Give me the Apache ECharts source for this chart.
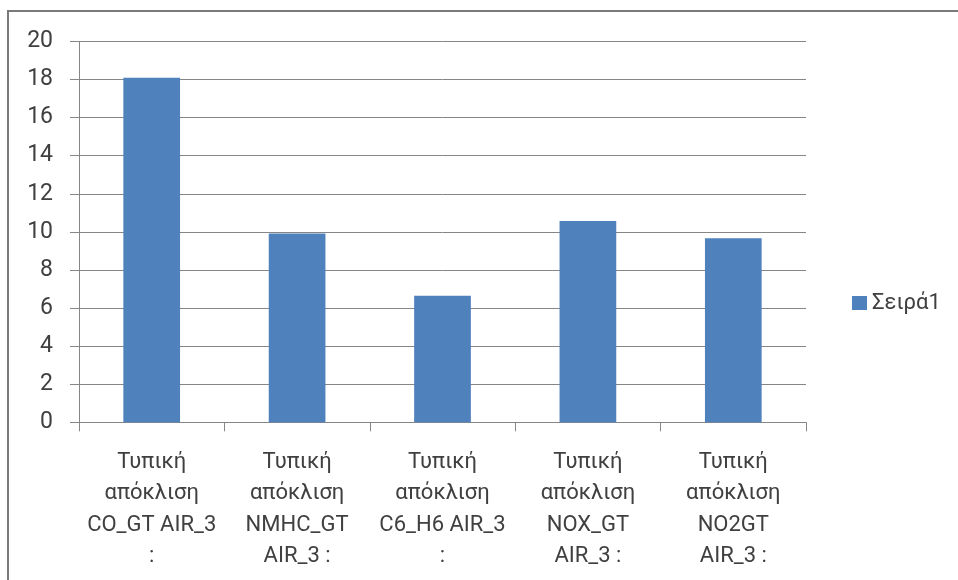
<!DOCTYPE html>
<html>
<head>
<meta charset="utf-8">
<script src="https://cdn.jsdelivr.net/npm/echarts@6/dist/echarts.min.js"></script>
<style>
html,body{margin:0;padding:0;background:#fff;}
#chart{width:958px;height:580px;}
</style>
</head>
<body>
<div id="chart"></div>
<script>
const categories = [
  "Τυπική\nαπόκλιση\nCO_GT AIR_3\n:",
  "Τυπική\nαπόκλιση\nNMHC_GT\nAIR_3 :",
  "Τυπική\nαπόκλιση\nC6_H6 AIR_3\n:",
  "Τυπική\nαπόκλιση\nNOX_GT\nAIR_3 :",
  "Τυπική\nαπόκλιση\nNO2GT\nAIR_3 :"
];
const seriesName = "Σειρά1";
const values = [18.1, 9.92, 6.65, 10.57, 9.67];
const yTicks = { min: 0, max: 20, interval: 2 };

const FONT = "Roboto, 'Liberation Sans', sans-serif";
const TEXT = "#404040";
const LINE = "#868686";

const chart = echarts.init(document.getElementById('chart'), null, {renderer: 'canvas'});
chart.setOption({
  animation: false,
  backgroundColor: '#ffffff',
  graphic: [{
    type: 'rect',
    shape: {x: 8, y: 11, width: 2000, height: 2000},
    style: {fill: 'none', stroke: '#7a7a7a', lineWidth: 2},
    silent: true
  }],
  grid: {left: 79, right: 152, top: 41.5, bottom: 157.7, containLabel: false},
  legend: {
    data: [seriesName],
    left: 847,
    top: 287,
    icon: 'rect',
    itemWidth: 15,
    itemHeight: 14,
    textStyle: {fontFamily: FONT, fontSize: 22, color: TEXT}
  },
  xAxis: {
    type: 'category',
    data: categories,
    axisLine: {show: true, lineStyle: {color: LINE, width: 1}},
    axisTick: {show: true, length: 9, alignWithLabel: false, lineStyle: {color: LINE}},
    axisLabel: {
      interval: 0,
      margin: 24,
      fontFamily: FONT,
      fontSize: 22,
      lineHeight: 31.5,
      color: TEXT
    },
    splitLine: {show: false}
  },
  yAxis: {
    type: 'value',
    min: yTicks.min,
    max: yTicks.max,
    interval: yTicks.interval,
    axisLine: {show: true, lineStyle: {color: LINE, width: 1}},
    axisTick: {show: true, length: 9, lineStyle: {color: LINE}},
    axisLabel: {margin: 26, fontFamily: FONT, fontSize: 23, color: TEXT},
    splitLine: {show: true, lineStyle: {color: LINE, width: 1}}
  },
  series: [{
    name: seriesName,
    type: 'bar',
    data: values,
    barWidth: '39%',
    itemStyle: {color: '#4f81bd'}
  }]
});
</script>
</body>
</html>
